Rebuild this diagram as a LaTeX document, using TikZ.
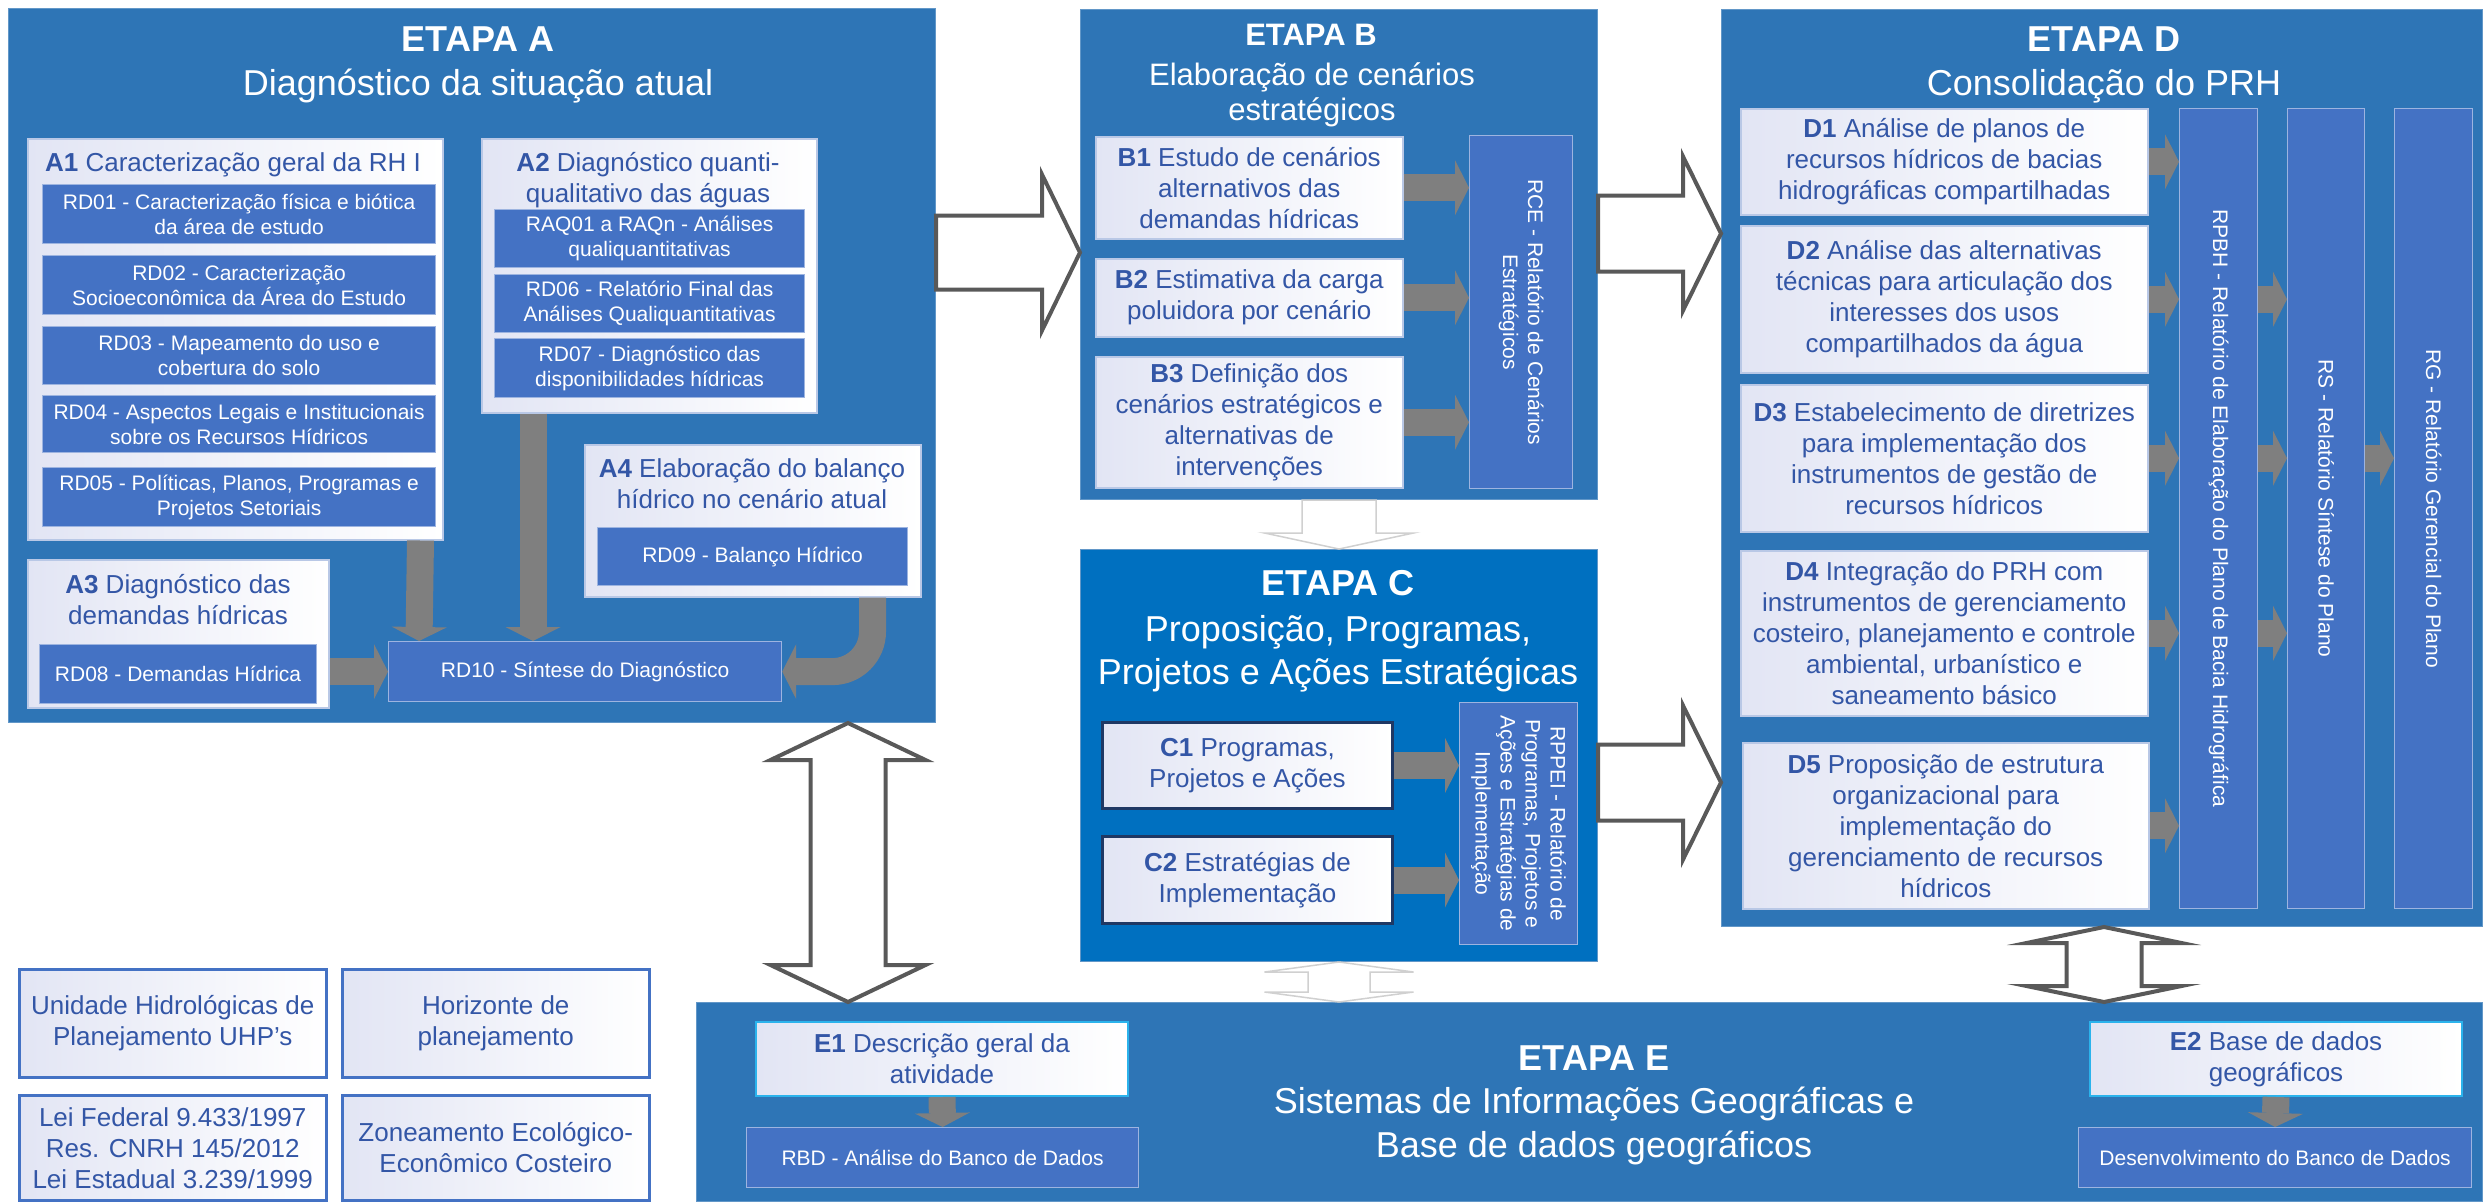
\documentclass[tikz,border=0pt]{standalone}
\usepackage{fontspec}
\setmainfont{Liberation Sans}
\usetikzlibrary{arrows.meta, calc}
\definecolor{etapablue}{HTML}{2E75B6}
\definecolor{etapacblue}{HTML}{0070C0}
\definecolor{repblue}{HTML}{4472C4}
\definecolor{repborder}{HTML}{9DB4E0}
\definecolor{txtblue}{HTML}{3356A6}
\definecolor{lav}{HTML}{E2E5F4}
\definecolor{wborder}{HTML}{B9C8E6}
\definecolor{navy}{HTML}{1F3864}
\definecolor{ecyan}{HTML}{2BB3EC}
\definecolor{arrowgray}{HTML}{7F7F7F}
\definecolor{outlinegray}{HTML}{595959}
\definecolor{palegray}{HTML}{D0D0D0}
\tikzstyle{etapa} = [rectangle, fill=etapablue, draw=etapablue!75!white, line width=1pt, inner sep=0pt, anchor=north west]
\tikzstyle{wbox} = [rectangle, draw=wborder, line width=1.5pt, left color=lav, right color=white, inner sep=0pt, anchor=north west, text=txtblue, align=center, font=\fontsize{26}{31}\selectfont]
\tikzstyle{rbox} = [rectangle, draw=repborder, line width=1.2pt, fill=repblue, inner sep=0pt, anchor=north west, text=white, align=center, font=\fontsize{21}{25}\selectfont]
\tikzset{
	wh/.style 2 args={minimum width=#1pt, minimum height=#2pt},
	cbox/.style={wbox, draw=navy, line width=3pt},
	ebox/.style={wbox, draw=ecyan, line width=2pt},
	legend/.style={wbox, draw=repblue, line width=2.5pt},
	boxtitle/.style={anchor=base, text=txtblue, align=center, font=\fontsize{26}{31}\selectfont},
	vtext/.style={rotate=-90, text=white, align=center, font=\fontsize{21}{25}\selectfont},
	etapatitle/.style={anchor=base, text=white, font=\fontsize{36}{43}\bfseries\selectfont},
	etapasub/.style={anchor=base, text=white, align=center, font=\fontsize{36}{43}\selectfont},
	garrow/.style={draw=arrowgray, line width=27pt, -{Triangle[length=14pt, width=55pt, line width=0pt]}},
	hollow/.style={draw=outlinegray, line width=4pt, fill=white, line join=miter},
	pale/.style={draw=palegray, line width=1.5pt, fill=white, line join=miter}
	}
% block arrows: style, start, tip, half shaft, half head, head length
\newcommand{\blockright}[6]{\draw[#1] ($(#2)+(0,-#4)$) -- ($(#3)+(-#6,-#4)$) -- ($(#3)+(-#6,-#5)$) -- (#3) -- ($(#3)+(-#6,#5)$) -- ($(#3)+(-#6,#4)$) -- ($(#2)+(0,#4)$) -- cycle;}
\newcommand{\blockdown}[6]{\draw[#1] ($(#2)+(-#4,0)$) -- ($(#3)+(-#4,-#6)$) -- ($(#3)+(-#5,-#6)$) -- (#3) -- ($(#3)+(#5,-#6)$) -- ($(#3)+(#4,-#6)$) -- ($(#2)+(#4,0)$) -- cycle;}
\newcommand{\blockupdown}[6]{\draw[#1] (#2) -- ($(#2)+(#5,#6)$) -- ($(#2)+(#4,#6)$) -- ($(#3)+(#4,-#6)$) -- ($(#3)+(#5,-#6)$) -- (#3) -- ($(#3)+(-#5,-#6)$) -- ($(#3)+(-#4,-#6)$) -- ($(#2)+(-#4,#6)$) -- ($(#2)+(-#5,#6)$) -- cycle;}

\begin{document}
\begin{tikzpicture}[x=1pt, y=-1pt]
	\useasboundingbox (0,0) rectangle (2484,1202);
	% etapas
	\node [etapa, wh={927}{714}] (ea) at (8,8) {};
	\node [etapa, wh={517}{490}] (eb) at (1080,9) {};
	\node [etapa, wh={517}{412}, fill=etapacblue] (ec) at (1080,549) {};
	\node [etapa, wh={761}{917}] (ed) at (1721,9) {};
	\node [etapa, wh={1786}{199}] (ee) at (696,1002) {};
	
	% big arrows between etapas
	\coordinate (ab) at ($(ea.east)+(0,-113)$);
	\coordinate (bd) at ($(eb.east)+(0,-21)$);
	\coordinate (cd) at ($(ec.east)+(0,27)$);
	\coordinate (ae) at ($(ea.south west)+(840,0)$);
	\coordinate (de) at ($(ed.south west)+(383,0)$);
	\blockright{hollow}{ab}{eb.west |- ab}{37}{78}{38}
	\blockright{hollow}{bd}{ed.west |- bd}{38}{77}{38}
	\blockright{hollow}{cd}{ed.west |- cd}{38}{77}{38}
	\blockupdown{hollow}{ae}{ae |- ee.north}{37.5}{77.5}{37}
	\blockupdown{hollow}{de}{de |- ee.north}{37.5}{77.5}{16}
	\blockdown{pale}{eb.south}{ec.north}{37}{74.5}{16}
	\blockupdown{pale}{ec.south}{ec.south |- ee.north}{31}{74.5}{10}
	
	% etapa A
	\node [etapatitle] (tA) at (478,51) {ETAPA A};
	\node [etapasub] (sA) at (478,95) {Diagnóstico da situação atual};
	\node [wbox, wh={415}{401}] (a1) at (27,138) {};
	\node [boxtitle] (a1t) at (233,171) {\textbf{A1} Caracterização geral da RH I};
	\node [rbox, wh={393}{59}] (rd01) at (42,184) {RD01 - Caracterização física e biótica\\da área de estudo};
	\node [rbox, wh={393}{59}] (rd02) at (42,255) {RD02 - Caracterização\\Socioeconômica da Área do Estudo};
	\node [rbox, wh={393}{58}] (rd03) at (42,326) {RD03 - Mapeamento do uso e\\cobertura do solo};
	\node [rbox, wh={393}{57}] (rd04) at (42,395) {RD04 - Aspectos Legais e Institucionais\\sobre os Recursos Hídricos};
	\node [rbox, wh={393}{59}] (rd05) at (42,467) {RD05 - Políticas, Planos, Programas e\\Projetos Setoriais};
	\node [wbox, wh={335}{274}] (a2) at (481,138) {};
	\node [boxtitle] (a2t) at (648,202) {\textbf{A2} Diagnóstico quanti-\\qualitativo das águas};
	\node [rbox, wh={310}{58}] (raq) at (494,209) {RAQ01 a RAQn - Análises\\qualiquantitativas};
	\node [rbox, wh={310}{58}] (rd06) at (494,274) {RD06 - Relatório Final das\\Análises Qualiquantitativas};
	\node [rbox, wh={310}{59}] (rd07) at (494,338) {RD07 - Diagnóstico das\\disponibilidades hídricas};
	\node [wbox, wh={336}{152}] (a4) at (584,444) {};
	\node [boxtitle] (a4t) at (752,508) {\textbf{A4} Elaboração do balanço\\hídrico no cenário atual};
	\node [rbox, wh={310}{58}] (rd09) at (597,527) {RD09 - Balanço Hídrico};
	\node [wbox, wh={301}{148}] (a3) at (27,559) {};
	\node [boxtitle] (a3t) at (178,624) {\textbf{A3} Diagnóstico das\\demandas hídricas};
	\node [rbox, wh={277}{59}] (rd08) at (39,644) {RD08 - Demandas Hídrica};
	\node [rbox, wh={393}{60}] (rd10) at (388,641) {RD10 - Síntese do Diagnóstico};
	
	\draw [garrow] ([xshift=-23pt]a1.south east) -- ([xshift=31pt]rd10.north west);
	\draw [garrow] ([xshift=52pt]a2.south west) -- ([xshift=145pt]rd10.north west);
	\draw [garrow] (rd10.west -| a3.east) -- (rd10.west);
	\draw [garrow, rounded corners=40pt] ([xshift=-49pt]a4.south east) |- (rd10.east);
	
	% etapa B
	\node [etapatitle, font=\fontsize{31}{35}\bfseries\selectfont] (tB) at (1311,45) {ETAPA B};
	\node [etapasub, font=\fontsize{31}{35}\selectfont] (sB) at (1312,120) {Elaboração de cenários\\estratégicos};
	\node [wbox, wh={307}{102}] (b1) at (1095,136) {\textbf{B1} Estudo de cenários\\alternativos das\\demandas hídricas};
	\node [wbox, wh={307}{78}] (b2) at (1095,258) {\textbf{B2} Estimativa da carga\\poluidora por cenário};
	\node [wbox, wh={307}{131}] (b3) at (1095,356) {\textbf{B3} Definição dos\\cenários estratégicos e\\alternativas de\\intervenções};
	\node [rbox, wh={103}{353}] (rce) at (1469,135) {};
	\node [vtext] (rcet) at (rce.center) {RCE - Relatório de Cenários\\Estratégicos};
	\foreach \b in {b1,b2,b3}
		\draw [garrow] (\b.east) -- (\b.east -| rce.west);
	
	% etapa C
	\node [etapatitle] (tC) at (1338,595) {ETAPA C};
	\node [etapasub] (sC) at (1338,684) {Proposição, Programas,\\Projetos e Ações Estratégicas};
	\node [cbox, wh={290}{86}] (c1) at (1101,721) {\textbf{C1} Programas,\\Projetos e Ações};
	\node [cbox, wh={290}{87}] (c2) at (1101,835) {\textbf{C2} Estratégias de\\Implementação};
	\node [rbox, wh={118}{242}] (rppei) at (1459,702) {};
	\node [vtext] (rppeit) at (rppei.center) {RPPEI - Relatório de\\Programas, Projetos e\\Ações e Estratégias de\\Implementação};
	\foreach \c in {c1,c2}
		\draw [garrow] (\c.east) -- (\c.east -| rppei.west);
	
	% etapa D
	\node [etapatitle] (tD) at (2104,51) {ETAPA D};
	\node [etapasub] (sD) at (2104,95) {Consolidação do PRH};
	\node [wbox, wh={407}{106}] (d1) at (1740,108) {\textbf{D1} Análise de planos de\\recursos hídricos de bacias\\hidrográficas compartilhadas};
	\node [wbox, wh={407}{147}] (d2) at (1740,225) {\textbf{D2} Análise das alternativas\\técnicas para articulação dos\\interesses dos usos\\compartilhados da água};
	\node [wbox, wh={407}{147}] (d3) at (1740,384) {\textbf{D3} Estabelecimento de diretrizes\\para implementação dos\\instrumentos de gestão de\\recursos hídricos};
	\node [wbox, wh={407}{165}] (d4) at (1740,550) {\textbf{D4} Integração do PRH com\\instrumentos de gerenciamento\\costeiro, planejamento e controle\\ambiental, urbanístico e\\saneamento básico};
	\node [wbox, wh={406}{166}] (d5) at (1742,742) {\textbf{D5} Proposição de estrutura\\organizacional para\\implementação do\\gerenciamento de recursos\\hídricos};
	\node [rbox, wh={78}{800}] (rpbh) at (2179,108) {};
	\node [rbox, wh={77}{800}] (rs) at (2287,108) {};
	\node [rbox, wh={78}{800}] (rg) at (2394,108) {};
	\node [vtext] (rpbht) at (rpbh.center) {RPBH - Relatório de Elaboração do Plano de Bacia Hidrográfica};
	\node [vtext] (rst) at (rs.center) {RS - Relatório Síntese do Plano};
	\node [vtext] (rgt) at (rg.center) {RG - Relatório Gerencial do Plano};
	\foreach \d in {d1,d2,d3,d4,d5}
		\draw [garrow] (\d.east) -- (\d.east -| rpbh.west);
	\foreach \d in {d2,d3,d4}
		\draw [garrow] (\d.east -| rpbh.east) -- (\d.east -| rs.west);
	\draw [garrow] (d3.east -| rs.east) -- (d3.east -| rg.west);
	
	% etapa E
	\node [etapatitle] (tE) at (1594,1070) {ETAPA E};
	\node [etapasub, font=\fontsize{36}{44}\selectfont] (sE) at (1594,1157) {Sistemas de Informações Geográficas e\\Base de dados geográficos};
	\node [ebox, wh={372}{74}] (e1) at (755,1021) {\textbf{E1} Descrição geral da\\atividade};
	\node [rbox, wh={392}{60}] (rbd) at (746,1127) {RBD - Análise do Banco de Dados};
	\node [ebox, wh={372}{74}] (e2) at (2089,1021) {\textbf{E2} Base de dados\\geográficos};
	\node [rbox, wh={393}{60}] (dev) at (2078,1127) {Desenvolvimento do Banco de Dados};
	\draw [garrow] (e1.south) -- (rbd.north);
	\draw [garrow] (e2.south) -- (dev.north);
	
	% legenda
	\node [legend, wh={307}{108}] (uhp) at (18,968) {Unidade Hidrológicas de\\Planejamento UHP’s};
	\node [legend, wh={307}{108}] (hor) at (341,968) {Horizonte de\\planejamento};
	\node [legend, wh={307}{105}] (lei) at (18,1094) {Lei Federal 9.433/1997\\Res. CNRH 145/2012\\Lei Estadual 3.239/1999};
	\node [legend, wh={307}{105}] (zee) at (341,1094) {Zoneamento Ecológico-\\Econômico Costeiro};
\end{tikzpicture}
\end{document}
